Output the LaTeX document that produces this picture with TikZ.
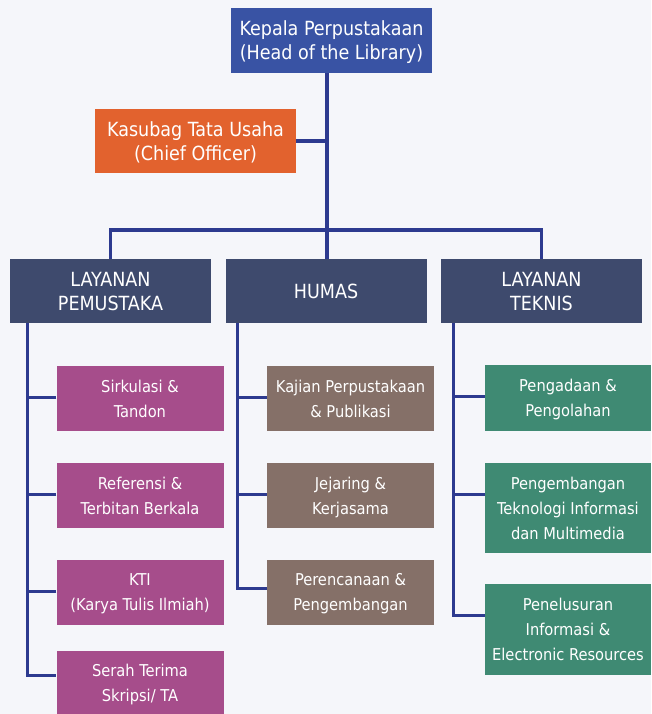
\documentclass[tikz,border=0pt]{standalone}
\usepackage{fontspec}
\usepackage{tikz}
\newfontfamily\orgfont{DejaVu Sans Condensed}
\definecolor{bgcol}{HTML}{F5F6FA}
\definecolor{linecol}{HTML}{2D3A8F}
\definecolor{headcol}{HTML}{3953A4}
\definecolor{chiefcol}{HTML}{E2622E}
\definecolor{unitcol}{HTML}{3E4A6D}
\definecolor{pemcol}{HTML}{A64D8B}
\definecolor{humcol}{HTML}{857068}
\definecolor{tekcol}{HTML}{3F8A73}
\tikzstyle{orgbox}=[rectangle,inner sep=0pt,text=white,align=center,text depth=0pt,
                    font=\orgfont\fontsize{19.5}{24}\selectfont]
\tikzstyle{topbox}=[orgbox,minimum width=201pt,minimum height=65pt]
\tikzstyle{subbox}=[orgbox,minimum width=167pt,minimum height=65pt,
                    font=\orgfont\fontsize{16.3}{25}\selectfont]
\tikzstyle{link}=[draw=linecol,line width=3.2pt]

\begin{document}
\begin{tikzpicture}[x=1pt,y=-1pt]
    \fill[bgcol] (0,0) rectangle (651,714);
    \useasboundingbox (0,0) rectangle (651,714);
    % top of the chart
    \node (kepala) at (331.5, 40.5) [topbox,fill=headcol]
      {Kepala Perpustakaan\\(Head of the Library)};
    \node (kasubag) at (195.5, 141) [topbox,fill=chiefcol,minimum height=64pt]
      {Kasubag Tata Usaha\\(Chief Officer)};
    \node (pemustaka) at (110.5, 291) [topbox,fill=unitcol,minimum height=64pt]
      {LAYANAN\\PEMUSTAKA};
    \node (humas) at (326, 291) [topbox,fill=unitcol,minimum height=64pt]
      {HUMAS};
    \node (teknis) at (541.5, 291) [topbox,fill=unitcol,minimum height=64pt]
      {LAYANAN\\TEKNIS};
    \coordinate (bar) at (327, 230);
    % layanan pemustaka
    \node (sirkulasi) at (140, 398.5) [subbox,fill=pemcol] {Sirkulasi \&\\Tandon};
    \node (referensi) at (140, 495.5) [subbox,fill=pemcol] {Referensi \&\\Terbitan Berkala};
    \node (kti) at (140, 592) [subbox,fill=pemcol] {KTI\\(Karya Tulis Ilmiah)};
    \node (serah) at (140, 683) [subbox,fill=pemcol] {Serah Terima\\Skripsi/ TA};
    % humas
    \node (kajian) at (350.5, 398.5) [subbox,fill=humcol] {Kajian Perpustakaan\\\& Publikasi};
    \node (jejaring) at (350.5, 495.5) [subbox,fill=humcol] {Jejaring \&\\Kerjasama};
    \node (rencana) at (350.5, 592) [subbox,fill=humcol] {Perencanaan \&\\Pengembangan};
    % layanan teknis
    \node (pengadaan) at (568, 398) [subbox,fill=tekcol,minimum width=166pt,minimum height=66pt]
      {Pengadaan \&\\Pengolahan};
    \node (tekinfo) at (568, 508) [subbox,fill=tekcol,minimum width=166pt,minimum height=90pt]
      {Pengembangan\\Teknologi Informasi\\dan Multimedia};
    \node (telusur) at (568, 629.5) [subbox,fill=tekcol,minimum width=166pt,minimum height=91pt]
      {Penelusuran\\Informasi \&\\Electronic Resources};
    \coordinate (lp) at ([xshift=18pt]pemustaka.south west);
    \coordinate (lh) at ([xshift=12pt]humas.south west);
    \coordinate (lt) at ([xshift=13pt]teknis.south west);
    % connectors
    \draw[link] (kepala.south -| bar) -- (humas.north -| bar);
    \draw[link] (kasubag.east) -- (kasubag.east -| bar);
    \draw[link] (pemustaka.north) |- (bar) -| (teknis.north);
    \draw[link] (lp) |- ([yshift=-25pt]serah.north west);
    \foreach \b in {sirkulasi,referensi,kti}
      \draw[link] ([yshift=-32pt]\b.north west) -- ([yshift=-32pt]\b.north west -| lp);
    \draw[link] (lh) |- ([yshift=-29pt]rencana.north west);
    \foreach \b in {kajian,jejaring}
      \draw[link] ([yshift=-32pt]\b.north west) -- ([yshift=-32pt]\b.north west -| lh);
    \draw[link] (lt) |- ([yshift=-32pt]telusur.north west);
    \foreach \b in {pengadaan,tekinfo}
      \draw[link] ([yshift=-32pt]\b.north west) -- ([yshift=-32pt]\b.north west -| lt);
\end{tikzpicture}
\end{document}
